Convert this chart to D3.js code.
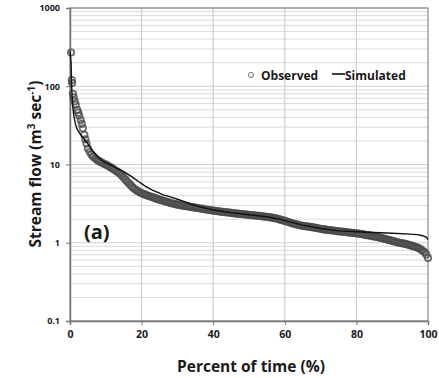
<!DOCTYPE html>
<html>
<head>
<meta charset="utf-8">
<script src="https://cdn.jsdelivr.net/npm/d3@7"></script>
<style>
html,body{margin:0;padding:0;background:#fff;}
svg{display:block;}
text{font-family:"Open Sans","DejaVu Sans",sans-serif;fill:#1a1a1a;}
</style>
</head>
<body>
<svg id="chart" width="439" height="378"></svg>
<script>
// ---- data ----
const xTicks = [0, 20, 40, 60, 80, 100];
const yTicks = [0.1, 1, 10, 100, 1000];
const yTickLabels = ["0.1", "1", "10", "100", "1000"];

const obsPct = [0.3, 0.5, 0.6, 0.8, 1.0, 1.3, 1.6, 2.0, 2.3, 2.6, 3.0, 3.3, 3.6, 4.0, 4.3, 4.6, 5.0, 5.5, 6.0, 6.5, 7.0, 7.5, 8.0, 8.5, 9.0, 9.5,
  10, 10.5, 11, 11.5, 12, 12.5, 13, 13.5, 14, 14.5, 15, 15.5, 16, 16.5, 17, 17.5, 18, 18.5, 19, 19.5,
  20, 20.5, 21, 21.5, 22, 22.5, 23, 23.5, 24, 24.5, 25, 25.5, 26, 26.5, 27, 27.5, 28, 28.5, 29, 29.5,
  30, 30.5, 31, 31.5, 32, 32.5, 33, 33.5, 34, 34.5, 35, 35.5, 36, 36.5, 37, 37.5, 38, 38.5, 39, 39.5,
  40, 40.5, 41, 41.5, 42, 42.5, 43, 43.5, 44, 44.5, 45, 45.5, 46, 46.5, 47, 47.5, 48, 48.5, 49, 49.5,
  50, 50.5, 51, 51.5, 52, 52.5, 53, 53.5, 54, 54.5, 55, 55.5, 56, 56.5, 57, 57.5, 58, 58.5, 59, 59.5,
  60, 60.5, 61, 61.5, 62, 62.5, 63, 63.5, 64, 64.5, 65, 65.5, 66, 66.5, 67, 67.5, 68, 68.5, 69, 69.5,
  70, 70.5, 71, 71.5, 72, 72.5, 73, 73.5, 74, 74.5, 75, 75.5, 76, 76.5, 77, 77.5, 78, 78.5, 79, 79.5,
  80, 80.5, 81, 81.5, 82, 82.5, 83, 83.5, 84, 84.5, 85, 85.5, 86, 86.5, 87, 87.5, 88, 88.5, 89, 89.5,
  90, 90.5, 91, 91.5, 92, 92.5, 93, 93.5, 94, 94.5, 95, 95.5, 96, 96.5, 97, 97.5, 98, 98.5, 99, 99.5, 100];
const obsFlow = [270, 120, 110, 80, 72, 64, 58, 50, 46, 42, 37, 33, 29, 24, 21, 18.5, 16, 14.5, 13.3, 12.6, 12, 11.5, 11.1, 10.8, 10.5, 10.2,
  10.0, 9.7, 9.4, 9.1, 8.8, 8.5, 8.2, 7.9, 7.6, 7.2, 6.8, 6.4, 6.0, 5.7, 5.4, 5.1, 4.9, 4.7, 4.55, 4.42,
  4.3, 4.21, 4.12, 4.04, 3.96, 3.89, 3.82, 3.75, 3.68, 3.61, 3.55, 3.5, 3.44, 3.39, 3.34, 3.29, 3.24, 3.19, 3.15, 3.11,
  3.07, 3.04, 3.01, 2.98, 2.96, 2.93, 2.91, 2.88, 2.86, 2.83, 2.81, 2.78, 2.76, 2.73, 2.71, 2.68, 2.66, 2.64, 2.62, 2.6,
  2.58, 2.56, 2.54, 2.52, 2.5, 2.48, 2.47, 2.45, 2.44, 2.42, 2.41, 2.39, 2.38, 2.36, 2.35, 2.33, 2.32, 2.31, 2.3, 2.28,
  2.27, 2.26, 2.25, 2.23, 2.22, 2.21, 2.2, 2.18, 2.17, 2.15, 2.14, 2.12, 2.11, 2.09, 2.07, 2.05, 2.02, 1.99, 1.96, 1.93,
  1.9, 1.87, 1.84, 1.81, 1.78, 1.75, 1.73, 1.7, 1.68, 1.66, 1.65, 1.63, 1.62, 1.61, 1.6, 1.58, 1.57, 1.55, 1.54, 1.52,
  1.51, 1.49, 1.48, 1.47, 1.46, 1.45, 1.44, 1.43, 1.42, 1.41, 1.4, 1.39, 1.39, 1.38, 1.37, 1.36, 1.35, 1.34, 1.34, 1.33,
  1.32, 1.31, 1.3, 1.29, 1.28, 1.26, 1.25, 1.24, 1.23, 1.21, 1.2, 1.19, 1.18, 1.16, 1.15, 1.13, 1.12, 1.1, 1.09, 1.07,
  1.06, 1.04, 1.03, 1.01, 1.0, 0.99, 0.98, 0.97, 0.96, 0.94, 0.93, 0.91, 0.9, 0.88, 0.87, 0.85, 0.82, 0.79, 0.76, 0.71, 0.64];

const simPct = [0, 0.3, 0.5, 0.7, 1.0, 1.5, 2, 3, 4, 5, 6, 7, 8, 9, 10, 11, 12, 13, 14, 15, 16, 17, 18, 19, 20, 21, 22, 23, 24, 25, 26, 28, 30, 32, 34, 36, 38, 40,
  45, 50, 55, 58, 60, 65, 70, 75, 80, 85, 90, 95, 97, 98.5, 99.5, 100];
const simFlow = [280, 200, 90, 60, 44, 33, 28, 24, 21, 18.5, 15.5, 13.8, 12.3, 11.2, 10.5, 10, 9.5, 9.0, 8.6, 8.1, 7.6, 7.1, 6.6, 6.1, 5.7, 5.3, 5.0, 4.7, 4.5, 4.3, 4.1, 3.85, 3.6, 3.35, 3.1, 2.9, 2.75, 2.62,
  2.42, 2.28, 2.15, 2.03, 1.92, 1.68, 1.52, 1.42, 1.38, 1.35, 1.32, 1.29, 1.27, 1.23, 1.18, 1.1];

const seriesNames = ["Observed", "Simulated"];

// ---- drawing ----
const svg = d3.select("#chart");
const x = d3.scaleLinear().domain([0, 100]).range([70, 428]);
const y = d3.scaleLog().domain([0.1, 1000]).range([321, 8]);

// minor grid
const minorVals = [];
[0.1, 1, 10, 100].forEach(d => { for (let k = 2; k <= 9; k++) minorVals.push(d * k); });
svg.append("g").selectAll("line").data(minorVals).join("line")
  .attr("x1", x(0)).attr("x2", x(100))
  .attr("y1", d => y(d)).attr("y2", d => y(d))
  .attr("stroke", "#dadada").attr("stroke-width", 1);
// major horizontal grid
svg.append("g").selectAll("line").data(yTicks).join("line")
  .attr("x1", x(0)).attr("x2", x(100))
  .attr("y1", d => y(d)).attr("y2", d => y(d))
  .attr("stroke", "#cfcfcf").attr("stroke-width", 1);
// vertical grid
svg.append("g").selectAll("line").data(xTicks.slice(1, -1)).join("line")
  .attr("x1", d => x(d)).attr("x2", d => x(d))
  .attr("y1", y(1000)).attr("y2", y(0.1))
  .attr("stroke", "#d0d0d0").attr("stroke-width", 1.2);

// frame
svg.append("rect").attr("x", x(0)).attr("y", y(1000))
  .attr("width", x(100) - x(0)).attr("height", y(0.1) - y(1000))
  .attr("fill", "none").attr("stroke", "#8a8a8a").attr("stroke-width", 1.2);

// axes
const xAxis = d3.axisBottom(x).tickValues(xTicks).tickFormat(d3.format("d")).tickSize(4).tickPadding(6);
const gx = svg.append("g").attr("transform", `translate(0,${y(0.1)})`).call(xAxis);
gx.select(".domain").attr("stroke", "#777").attr("stroke-width", 1.5);
gx.selectAll(".tick line").attr("stroke", "#777");
gx.selectAll("text").attr("font-size", 10.5).attr("font-weight", 700).attr("fill", "#1a1a1a")
  .style("font-family", '"Open Sans",sans-serif');

const yAxis = d3.axisLeft(y).tickValues(yTicks).tickFormat((d, i) => yTickLabels[i]).tickSize(4).tickPadding(6);
const gy = svg.append("g").attr("transform", `translate(${x(0)},0)`).call(yAxis);
gy.select(".domain").attr("stroke", "#777").attr("stroke-width", 1.5);
gy.selectAll(".tick line").attr("stroke", "#777");
gy.selectAll("text").attr("font-size", 9).attr("font-weight", 700).attr("fill", "#1a1a1a")
  .style("font-family", '"Open Sans",sans-serif');

// observed circles
svg.append("g").selectAll("circle").data(obsPct.map((p, i) => [p, obsFlow[i]])).join("circle")
  .attr("cx", d => x(d[0])).attr("cy", d => y(d[1])).attr("r", 3.2)
  .attr("fill", "none").attr("stroke", "#4a4a4a").attr("stroke-opacity", 0.8).attr("stroke-width", 1.8);

// simulated line
svg.append("path").datum(simPct.map((p, i) => [p, simFlow[i]]))
  .attr("fill", "none").attr("stroke", "#111").attr("stroke-width", 1.4)
  .attr("d", d3.line().x(d => x(d[0])).y(d => y(d[1])));

// legend
svg.append("circle").attr("cx", 251).attr("cy", 75).attr("r", 2.6)
  .attr("fill", "none").attr("stroke", "#777").attr("stroke-width", 1);
svg.append("text").attr("x", 261).attr("y", 79.5).attr("font-size", 12).attr("font-weight", 700).text(seriesNames[0]);
svg.append("line").attr("x1", 332).attr("x2", 345).attr("y1", 74).attr("y2", 74)
  .attr("stroke", "#111").attr("stroke-width", 1.6);
svg.append("text").attr("x", 345).attr("y", 79.5).attr("font-size", 12).attr("font-weight", 700).text(seriesNames[1]);

// panel label
svg.append("text").attr("x", 84).attr("y", 239).attr("font-size", 20).attr("font-weight", 700).text("(a)");

// axis titles
svg.append("text").attr("x", 251).attr("y", 372).attr("text-anchor", "middle")
  .attr("font-size", 15.5).attr("font-weight", 700).text("Percent of time (%)");

const yt = svg.append("text").attr("transform", "translate(41,164) rotate(-90)")
  .attr("text-anchor", "middle").attr("font-size", 15.5).attr("font-weight", 700);
yt.append("tspan").text("Stream flow (m");
yt.append("tspan").attr("font-size", 10).attr("dy", -6).text("3");
yt.append("tspan").attr("dy", 6).text(" sec");
yt.append("tspan").attr("font-size", 10).attr("dy", -6).text("-1");
yt.append("tspan").attr("dy", 6).text(")");
</script>
</body>
</html>
